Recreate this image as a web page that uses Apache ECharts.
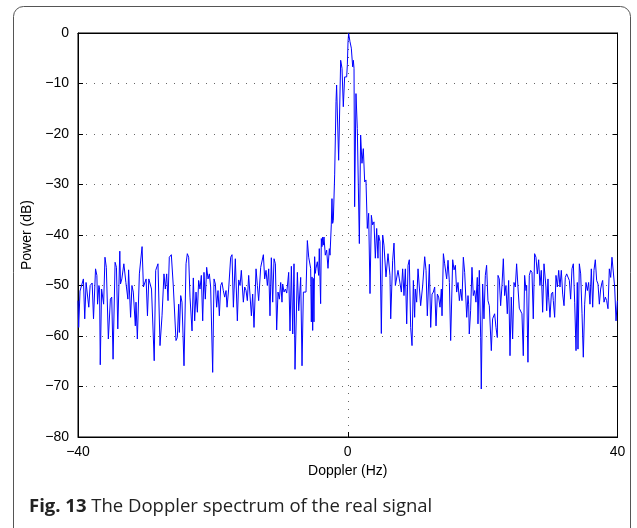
<!DOCTYPE html>
<html>
<head>
<meta charset="utf-8">
<script src="https://cdn.jsdelivr.net/npm/echarts@6/dist/echarts.min.js"></script>
<style>
  html, body { margin: 0; padding: 0; background: #fff; }
  #main { width: 637px; height: 528px; }
</style>
</head>
<body>
<div id="main"></div>
<script>
// Doppler frequency (Hz)
var freq = [
  -40.0, -39.9, -39.7, -39.5, -39.2, -39.0, -38.8, -38.6, -38.4, -38.2, -37.9, -37.7, -37.4, -37.2, -37.1, -36.9, -36.8, -36.7, -36.5, -36.3,
  -36.2, -36.0, -35.8, -35.5, -35.2, -35.0, -34.8, -34.5, -34.3, -34.1, -33.8, -33.7, -33.5, -33.2, -32.9, -32.6, -32.5, -32.2, -32.0, -31.8,
  -31.6, -31.5, -31.4, -31.2, -30.9, -30.5, -30.3, -29.9, -29.7, -29.5, -29.3, -29.1, -28.7,
  -28.48, -28.14, -27.84, -27.54, -27.25, -27.05, -26.85, -26.65, -26.46, -26.16, -25.86, -25.47, -25.27, -25.07, -24.97, -24.77, -24.58, -24.28,
  -23.98, -23.79, -23.59, -23.39, -23.09, -22.90, -22.70, -22.50, -22.30, -22.11, -21.91, -21.71, -21.51, -21.32, -21.12, -20.92, -20.72, -20.52,
  -20.33, -20.03, -19.83, -19.63, -19.44, -19.24, -19.04, -18.84, -18.65, -18.45, -18.25, -18.05, -17.90, -17.66, -17.36, -17.16,
  -16.96, -16.67, -16.37, -16.17, -15.97, -15.78, -15.48, -15.28, -15.08, -14.89, -14.69, -14.49, -14.29, -14.10, -13.90, -13.60, -13.40, -13.21,
  -12.91, -12.71, -12.51, -12.32, -12.12, -11.92, -11.72, -11.53, -11.33, -11.13, -10.93, -10.73, -10.54, -10.34, -10.14, -9.94, -9.75, -9.65,
  -9.45, -9.25, -9.05, -8.76, -8.56, -8.36, -8.16, -7.97, -7.82, -7.47, -7.27, -6.98, -6.78, -6.58, -6.38, -6.19, -5.99, -5.79,
  -5.50, -5.40, -5.30, -5.20, -5.11, -5.01, -4.91, -4.81, -4.71, -4.51, -4.31, -4.22, -4.02, -3.92, -3.82, -3.72, -3.62, -3.52, -3.33, -3.13,
  -2.93, -2.73, -2.63, -2.44, -2.34, -2.24, -2.14, -1.94, -1.74, -1.65, -1.55, -1.35, -1.05, -0.85, -0.66, -0.46, -0.36, -0.16, -0.06, 0.04,
  0.13, 0.23, 0.33, 0.53, 0.73, 0.83, 0.93, 1.02, 1.22, 1.42, 1.72, 1.91, 2.11, 2.31, 2.51, 2.70, 2.90, 3.10, 3.30, 3.50,
  3.69, 3.89, 4.09, 4.29, 4.48, 4.58, 4.78, 4.98, 5.18, 5.37, 5.67, 5.97, 6.26,
  6.37, 6.66, 6.86, 7.06, 7.26, 7.45, 7.65, 7.75, 7.95, 8.14, 8.34, 8.54, 8.74, 8.94, 9.13, 9.33, 9.53, 9.73, 9.92, 10.02,
  10.22, 10.42, 10.62, 10.81, 11.11, 11.41, 11.61, 11.80, 12.10, 12.30, 12.50, 12.69, 12.89, 13.09, 13.29, 13.48, 13.68, 13.88, 13.98, 14.18,
  14.37, 14.67, 14.87, 15.07, 15.26, 15.56, 15.76, 15.96, 16.15, 16.35, 16.55, 16.75, 16.94, 17.14, 17.34, 17.64, 17.83,
  17.93, 18.02, 18.22, 18.42, 18.62, 18.82, 19.01, 19.21, 19.31, 19.51, 19.71, 19.80, 20.00, 20.20, 20.40, 20.59, 20.79, 20.99, 21.29, 21.48,
  21.78, 21.98, 22.18, 22.28, 22.47, 22.67, 22.87, 23.07, 23.26, 23.46, 23.66, 23.86, 24.06, 24.25, 24.45, 24.65, 24.85, 25.04, 25.24, 25.44,
  25.64, 25.83, 26.03, 26.23, 26.43, 26.53, 26.72, 26.92, 27.12, 27.32, 27.51, 27.71, 27.91, 28.11, 28.31, 28.50, 28.70, 28.90, 29.10, 29.39,
  29.50, 29.69, 29.79, 29.99, 30.19, 30.39, 30.48, 30.68, 30.88, 31.08, 31.28, 31.47, 31.67, 31.87, 32.07, 32.26, 32.46, 32.66, 32.86, 33.05,
  33.25, 33.45, 33.65, 33.85, 34.04, 34.14, 34.34, 34.54, 34.74, 34.93, 35.13, 35.33, 35.53, 35.72, 35.92, 36.12, 36.32, 36.51, 36.71, 36.91,
  37.11, 37.31, 37.50, 37.70, 37.80, 38.00, 38.20, 38.39, 38.59, 38.79, 38.99, 39.18, 39.38, 39.58, 39.78, 39.98
];

// power (dB), one per freq entry
var power = [
  -53.0, -58.3, -51.1, -51.3, -48.7, -56.6, -49.4, -49.7, -54.3, -50.0, -49.5, -56.6, -46.7, -48.0, -53.7, -50.0, -50.7, -65.7, -50.7, -51.0,
  -53.7, -44.4, -46.4, -60.6, -52.7, -52.3, -64.6, -45.4, -46.4, -58.6, -43.2, -49.7, -48.7, -45.7, -49.4, -52.7, -46.9, -56.3, -50.0, -51.3,
  -51.0, -58.0, -53.3, -60.6, -47.7, -42.3, -50.3, -48.7, -56.0, -48.7, -49.0, -50.7, -64.9,
  -47.0, -45.7, -61.9, -56.0, -47.7, -50.7, -47.7, -53.0, -44.4, -43.9, -50.3, -60.9, -60.3, -53.7, -59.3, -52.0, -53.3, -65.9,
  -45.7, -43.7, -44.4, -52.3, -59.0, -48.5, -57.0, -51.3, -55.3, -49.0, -50.7, -48.0, -57.0, -47.4, -52.7, -46.4, -48.7, -47.7,
  -50.3, -67.2, -48.7, -49.7, -54.3, -51.0, -56.0, -50.0, -49.4, -51.0, -52.3, -51.0, -54.3, -50.7, -44.4, -43.9,
  -54.3, -44.7, -57.0, -48.9, -50.0, -47.0, -53.3, -50.3, -51.0, -53.0, -48.0, -47.7, -56.0, -51.7, -58.3, -46.7, -50.0, -53.0,
  -46.4, -46.7, -43.9, -48.7, -47.0, -50.0, -46.7, -56.0, -44.5, -53.3, -44.7, -45.7, -58.8, -51.3, -52.7, -49.4, -53.3, -49.7,
  -51.3, -50.7, -51.5, -47.4, -59.0, -46.2, -59.6, -45.7, -66.6, -47.4, -55.0, -48.4, -65.9, -51.3, -51.0, -51.3, -41.1, -44.4,
  -46.6, -57.2, -48.3, -58.9, -48.6, -57.2, -44.3, -47.6, -46.6, -45.3, -48.0, -42.7, -53.6, -40.7, -42.3, -40.4, -42.0, -40.4, -44.0, -43.0,
  -46.6, -42.7, -44.0, -38.0, -32.8, -37.7, -37.1, -28.1, -13.6, -10.3, -10.0, -25.2, -5.4, -7.0, -14.6, -8.7, -9.0, -8.7, -6.3, -1.7,
  -0.1, -0.4, -1.7, -3.0, -6.7, -5.4, -7.0, -34.4, -12.0, -18.9, -41.7, -20.2, -25.8, -22.9, -29.5, -29.1, -38.7, -35.7, -51.6, -36.1,
  -38.0, -37.4, -44.6, -38.7, -44.6, -40.0, -41.3, -59.5, -40.0, -42.0, -48.3, -43.7, -48.0,
  -56.6, -45.0, -41.6, -50.0, -50.3, -47.0, -48.7, -49.0, -51.3, -46.7, -52.0, -46.7, -57.6, -46.0, -44.9, -58.3, -61.9, -49.0, -56.3, -50.7,
  -53.3, -46.7, -46.4, -54.0, -50.0, -44.3, -47.0, -56.0, -45.8, -58.3, -51.7, -51.3, -50.3, -58.0, -51.7, -52.3, -54.3, -50.7, -56.0, -43.7,
  -45.7, -48.7, -45.0, -49.4, -60.9, -44.9, -46.9, -46.0, -51.3, -49.4, -53.0, -50.7, -53.0, -44.4, -47.4, -56.3, -52.0,
  -53.7, -59.6, -55.0, -46.4, -52.0, -51.0, -53.3, -48.4, -57.6, -47.0, -60.3, -70.5, -49.7, -56.6, -48.0, -46.0, -53.0, -54.0, -62.9, -56.6,
  -55.6, -58.3, -60.3, -48.0, -48.7, -54.0, -50.0, -44.7, -52.0, -50.0, -55.6, -49.0, -63.9, -52.3, -60.6, -49.4, -50.3, -45.7, -50.3, -54.5,
  -54.6, -55.6, -63.9, -48.0, -51.0, -50.0, -65.2, -48.0, -47.0, -47.4, -56.6, -43.7, -44.4, -47.7, -44.9, -50.0, -47.0, -55.3, -45.7, -50.3,
  -55.0, -48.7, -52.3, -56.3, -51.7, -51.3, -53.0, -56.3, -48.0, -50.3, -47.0, -50.3, -47.0, -51.7, -54.0, -48.4, -47.7, -47.4, -49.0, -52.7,
  -46.7, -45.7, -53.3, -62.9, -49.4, -62.6, -45.7, -47.7, -55.6, -64.2, -53.7, -49.4, -51.0, -49.4, -53.7, -46.7, -54.3, -47.0, -44.9, -49.0,
  -49.7, -53.7, -50.7, -49.4, -49.0, -53.3, -52.3, -53.0, -54.6, -46.7, -48.4, -44.4, -44.7, -50.3, -57.0, -53.0
];

var xTicks = [-40, 0, 40];
var yTicks = [-80, -70, -60, -50, -40, -30, -20, -10, 0];

var caption = 'The Doppler spectrum of the real signal';

// matlab style minus sign
function fmt(v) {
    return v < 0 ? '\u2212' + Math.abs(v) : String(v);
}

var myChart = echarts.init(document.getElementById('main'));

var dotted = { color: '#666', width: 1, type: [1, 7] };
var labelFont = { color: '#000', fontSize: 14, fontFamily: 'Liberation Sans, Arial, sans-serif' };

var option = {
    animation: false,
    backgroundColor: '#fff',
    title: {
        left: 24,
        top: 492,
        text: '{b|Fig. 13} ' + caption,
        textStyle: {
            fontFamily: 'Open Sans, Noto Sans, sans-serif',
            fontSize: 18.5,
            fontWeight: 'normal',
            color: '#222',
            rich: {
                b: { fontFamily: 'Open Sans, Noto Sans, sans-serif', fontSize: 18.5, fontWeight: 'bold', color: '#222' }
            }
        }
    },
    graphic: [{
        type: 'rect',
        silent: true,
        shape: { x: 13.5, y: 6.5, width: 617, height: 540, r: 10 },
        style: { fill: null, stroke: '#555', lineWidth: 1 }
    }],
    grid: {
        left: 78,
        right: 19.5,
        top: 33,
        bottom: 91,
        show: true,
        borderColor: '#000',
        borderWidth: 1,
        backgroundColor: '#fff'
    },
    xAxis: [{
        type: 'value',
        min: xTicks[0],
        max: xTicks[xTicks.length - 1],
        interval: 40,
        name: 'Doppler (Hz)',
        nameLocation: 'middle',
        nameGap: 25,
        nameTextStyle: labelFont,
        axisLine: { show: true, onZero: false, lineStyle: { color: '#000' } },
        axisTick: { show: true, inside: true, length: 5, lineStyle: { color: '#000' } },
        axisLabel: Object.assign({ margin: 8, formatter: fmt }, labelFont),
        splitLine: { show: true, lineStyle: dotted }
    }, {
        // top frame ticks
        type: 'value',
        position: 'top',
        min: -40,
        max: 40,
        interval: 40,
        axisLine: { show: true, onZero: false, lineStyle: { color: '#000' } },
        axisTick: { show: true, inside: true, length: 5, lineStyle: { color: '#000' } },
        axisLabel: { show: false },
        splitLine: { show: false }
    }],
    yAxis: [{
        type: 'value',
        min: yTicks[0],
        max: yTicks[yTicks.length - 1],
        interval: 10,
        name: 'Power (dB)',
        nameLocation: 'middle',
        nameGap: 33,
        nameTextStyle: labelFont,
        axisLine: { show: true, onZero: false, lineStyle: { color: '#000' } },
        axisTick: { show: true, inside: true, length: 5, lineStyle: { color: '#000' } },
        axisLabel: Object.assign({ margin: 9, formatter: fmt }, labelFont),
        splitLine: { show: true, lineStyle: dotted }
    }, {
        // right frame ticks
        type: 'value',
        position: 'right',
        min: -80,
        max: 0,
        interval: 10,
        axisLine: { show: true, onZero: false, lineStyle: { color: '#000' } },
        axisTick: { show: true, inside: true, length: 5, lineStyle: { color: '#000' } },
        axisLabel: { show: false },
        splitLine: { show: false }
    }],
    series: [{
        type: 'line',
        name: 'spectrum',
        data: freq.map(function (f, i) { return [f, power[i]]; }),
        showSymbol: false,
        symbol: 'none',
        lineStyle: { color: '#0000ff', width: 1 }
    }]
};

myChart.setOption(option);
</script>
</body>
</html>
